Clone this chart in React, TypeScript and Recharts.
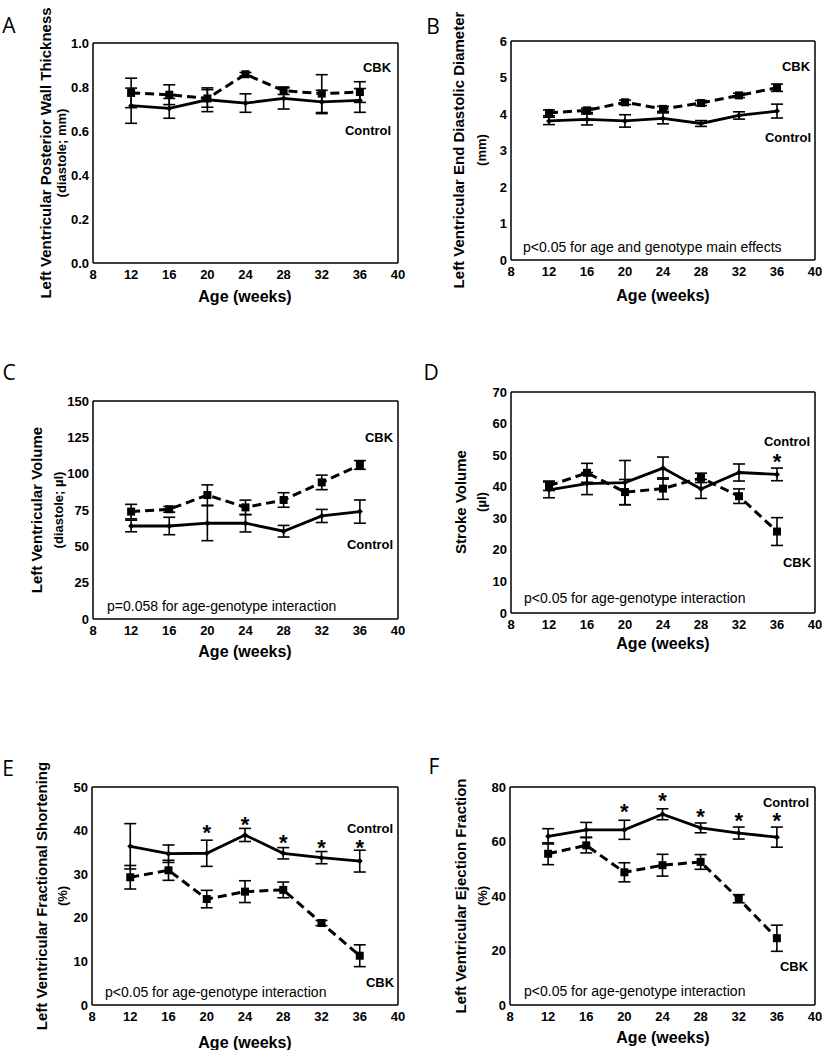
import React from "react";
import {
  ComposedChart,
  Line,
  XAxis,
  YAxis,
  ErrorBar,
  ReferenceLine,
} from "recharts";

const ages = [12, 16, 20, 24, 28, 32, 36];
const ageTicks = [8, 12, 16, 20, 24, 28, 32, 36, 40];

// A - posterior wall thickness
const pwtControl = [0.715, 0.703, 0.742, 0.727, 0.748, 0.732, 0.739];
const pwtControlErr = [0.08, 0.045, 0.054, 0.042, 0.048, 0.053, 0.054];
const pwtCbk = [0.773, 0.765, 0.748, 0.858, 0.783, 0.77, 0.777];
const pwtCbkErr = [0.067, 0.045, 0.04, 0.008, 0.017, 0.086, 0.047];

// B - end diastolic diameter
const eddControl = [3.81, 3.85, 3.81, 3.88, 3.74, 3.96, 4.08];
const eddControlErr = [0.1, 0.15, 0.17, 0.15, 0.08, 0.1, 0.19];
const eddCbk = [4.03, 4.1, 4.32, 4.14, 4.3, 4.51, 4.72];
const eddCbkErr = [0.08, 0.06, 0.06, 0.07, 0.07, 0.06, 0.1];

// C - diastolic volume
const volControl = [64, 64, 65.9, 65.9, 60.4, 70.9, 73.9];
const volControlErr = [4, 6, 12, 6, 4, 4.5, 8];
const volCbk = [73.9, 75.5, 85.3, 76.8, 81.9, 94, 106];
const volCbkErr = [5, 2, 7, 5, 5, 5, 3];

// D - stroke volume
const svControl = [39, 41, 41.3, 45.9, 39.3, 44.5, 43.9];
const svControlErr = [2.5, 3.5, 7, 3.5, 3, 2.7, 2];
const svCbk = [40.3, 44.4, 38.3, 39.4, 42.8, 37, 25.8];
const svCbkErr = [1.5, 3, 4, 3.4, 1.5, 2.3, 4.4];
const svStars = [null, null, null, null, null, null, 49.4];

// E - fractional shortening
const fsControl = [36.4, 34.7, 34.8, 39, 34.8, 33.8, 33];
const fsControlErr = [5.2, 2, 3, 1.5, 1.3, 1.4, 2.5];
const fsCbk = [29.3, 30.9, 24.3, 26, 26.4, 18.8, 11.3];
const fsCbkErr = [2.7, 2.3, 2, 2.5, 1.8, 0.6, 2.5];
const fsStars = [null, null, 40.6, 42.5, 38.3, 37.1, 37.1];

// F - ejection fraction
const efControl = [61.9, 64.3, 64.3, 70, 65, 63.1, 61.6];
const efControlErr = [2.8, 2.7, 3.5, 2, 1.8, 2.2, 3.7];
const efCbk = [55.5, 58.6, 48.7, 51.3, 52.5, 39, 24.5];
const efCbkErr = [4, 2.8, 3.5, 4, 2.7, 1.5, 4.8];
const efStars = [null, null, 72.7, 76.6, 70.8, 69.2, 69.2];

const FONT = "'Liberation Sans', Arial, sans-serif";

const build = (
  control: number[],
  controlErr: number[],
  cbk: number[],
  cbkErr: number[],
  stars?: (number | null)[]
) =>
  ages.map((age, i) => ({
    age,
    control: control[i],
    controlErr: controlErr[i],
    cbk: cbk[i],
    cbkErr: cbkErr[i],
    star: stars ? stars[i] : null,
  }));

const squareDot = (p: any) => {
  if (p.cy == null) return <g key={`s-${p.index}`} />;
  return <rect key={`s-${p.index}`} x={p.cx - 4} y={p.cy - 4} width={8} height={8} fill="#000" />;
};

const diamondDot = (p: any) => {
  if (p.cy == null) return <g key={`d-${p.index}`} />;
  const r = 3;
  return (
    <polygon
      key={`d-${p.index}`}
      points={`${p.cx},${p.cy - r} ${p.cx + r},${p.cy} ${p.cx},${p.cy + r} ${p.cx - r},${p.cy}`}
      fill="#000"
    />
  );
};

const starDot = (p: any) => {
  if (p.value == null || p.cy == null || isNaN(p.cy)) return <g key={`st-${p.index}`} />;
  return (
    <text
      key={`st-${p.index}`}
      x={p.cx}
      y={p.cy + 12}
      textAnchor="middle"
      fontSize={22}
      fontWeight="bold"
      fontFamily={FONT}
      fill="#000"
    >
      *
    </text>
  );
};

type Box = { x: number; y: number; w: number; h: number };

type PanelProps = {
  box: Box;
  data: any[];
  yMax: number;
  yTicks: number[];
  fmt?: (v: number) => string;
};

const PAD_L = 95;
const PAD_T = 15;
const PAD_R = 15;
const PAD_B = 50;

const Panel: React.FC<PanelProps> = ({ box, data, yMax, yTicks, fmt }) => {
  const tickStyle = { fontSize: 13, fontWeight: "bold", fill: "#000", fontFamily: FONT };
  return (
    <div style={{ position: "absolute", left: box.x - PAD_L, top: box.y - PAD_T }}>
      <ComposedChart
        width={box.w + PAD_L + PAD_R}
        height={box.h + PAD_T + PAD_B}
        data={data}
        margin={{ top: PAD_T, right: PAD_R, bottom: 0, left: 0 }}
      >
        <XAxis
          type="number"
          dataKey="age"
          domain={[8, 40]}
          ticks={ageTicks}
          height={PAD_B}
          tickSize={0}
          tickMargin={7}
          tick={tickStyle}
          axisLine={{ stroke: "#000", strokeWidth: 1.5 }}
          interval={0}
        />
        <YAxis
          type="number"
          domain={[0, yMax]}
          ticks={yTicks}
          width={PAD_L}
          tickSize={0}
          tickMargin={4}
          tick={tickStyle}
          tickFormatter={fmt}
          axisLine={{ stroke: "#000", strokeWidth: 1.5 }}
          interval={0}
        />
        <ReferenceLine y={yMax} stroke="#000" strokeWidth={1.5} ifOverflow="visible" />
        <ReferenceLine x={40} stroke="#000" strokeWidth={1.5} ifOverflow="visible" />
        <Line
          dataKey="control"
          stroke="#000"
          strokeWidth={2.8}
          dot={diamondDot}
          activeDot={false}
          isAnimationActive={false}
        >
          <ErrorBar dataKey="controlErr" direction="y" width={6} stroke="#000" strokeWidth={1.6} />
        </Line>
        <Line
          dataKey="cbk"
          stroke="#000"
          strokeWidth={3}
          strokeDasharray="9 5"
          dot={squareDot}
          activeDot={false}
          isAnimationActive={false}
        >
          <ErrorBar dataKey="cbkErr" direction="y" width={6} stroke="#000" strokeWidth={1.6} />
        </Line>
        <Line
          dataKey="star"
          stroke="none"
          dot={starDot}
          activeDot={false}
          isAnimationActive={false}
        />
      </ComposedChart>
    </div>
  );
};

const boxes: Record<string, Box> = {
  A: { x: 93, y: 43, w: 305, h: 220 },
  B: { x: 511, y: 41, w: 304, h: 219 },
  C: { x: 93, y: 401, w: 305, h: 218 },
  D: { x: 511, y: 392, w: 304, h: 221 },
  E: { x: 92, y: 787, w: 306, h: 218 },
  F: { x: 510, y: 787, w: 305, h: 218 },
};

type Txt = { t: string; x: number; y: number };

const letters: Txt[] = [
  { t: "A", x: 9, y: 25 },
  { t: "B", x: 433, y: 26 },
  { t: "C", x: 9, y: 372 },
  { t: "D", x: 431, y: 372 },
  { t: "E", x: 8, y: 768 },
  { t: "F", x: 434, y: 766 },
];

const yTitles = [
  { main: "Left Ventricular Posterior Wall Thickness", sub: "(diastole; mm)", x1: 45, x2: 61, y: 153 },
  { main: "Left Ventricular End Diastolic Diameter", sub: "(mm)", x1: 458, x2: 481, y: 150 },
  { main: "Left Ventricular Volume", sub: "(diastole; µl)", x1: 36, x2: 58, y: 510 },
  { main: "Stroke Volume", sub: "(µl)", x1: 460, x2: 481, y: 502 },
  { main: "Left Ventricular Fractional Shortening", sub: "(%)", x1: 41, x2: 62, y: 896 },
  { main: "Left Ventricular Ejection Fraction", sub: "(%)", x1: 460, x2: 482, y: 896 },
];

const seriesLabels: Txt[] = [
  { t: "CBK", x: 377, y: 67 },
  { t: "Control", x: 368, y: 130 },
  { t: "CBK", x: 796, y: 66 },
  { t: "Control", x: 788, y: 137 },
  { t: "CBK", x: 379, y: 437 },
  { t: "Control", x: 370, y: 544 },
  { t: "Control", x: 787, y: 441 },
  { t: "CBK", x: 797, y: 562 },
  { t: "Control", x: 370, y: 828 },
  { t: "CBK", x: 380, y: 982 },
  { t: "Control", x: 786, y: 802 },
  { t: "CBK", x: 794, y: 966 },
];

const notes: Txt[] = [
  { t: "p<0.05 for age and genotype main effects", x: 523, y: 247 },
  { t: "p=0.058 for age-genotype interaction", x: 107, y: 606 },
  { t: "p<0.05 for age-genotype interaction", x: 524, y: 598 },
  { t: "p<0.05 for age-genotype interaction", x: 105, y: 992 },
  { t: "p<0.05 for age-genotype interaction", x: 524, y: 991 },
];

const xTitles: Txt[] = [
  { t: "Age (weeks)", x: 245, y: 296 },
  { t: "Age (weeks)", x: 663, y: 295 },
  { t: "Age (weeks)", x: 245, y: 651 },
  { t: "Age (weeks)", x: 663, y: 643 },
  { t: "Age (weeks)", x: 245, y: 1042 },
  { t: "Age (weeks)", x: 663, y: 1037 },
];

const App: React.FC = () => {
  return (
    <div
      style={{
        position: "absolute",
        left: 0,
        top: 0,
        width: 822,
        height: 1050,
        background: "#fff",
        overflow: "hidden",
      }}
    >
      <Panel
        box={boxes.A}
        data={build(pwtControl, pwtControlErr, pwtCbk, pwtCbkErr)}
        yMax={1}
        yTicks={[0, 0.2, 0.4, 0.6, 0.8, 1.0]}
        fmt={(v) => v.toFixed(1)}
      />
      <Panel
        box={boxes.B}
        data={build(eddControl, eddControlErr, eddCbk, eddCbkErr)}
        yMax={6}
        yTicks={[0, 1, 2, 3, 4, 5, 6]}
      />
      <Panel
        box={boxes.C}
        data={build(volControl, volControlErr, volCbk, volCbkErr)}
        yMax={150}
        yTicks={[0, 25, 50, 75, 100, 125, 150]}
      />
      <Panel
        box={boxes.D}
        data={build(svControl, svControlErr, svCbk, svCbkErr, svStars)}
        yMax={70}
        yTicks={[0, 10, 20, 30, 40, 50, 60, 70]}
      />
      <Panel
        box={boxes.E}
        data={build(fsControl, fsControlErr, fsCbk, fsCbkErr, fsStars)}
        yMax={50}
        yTicks={[0, 10, 20, 30, 40, 50]}
      />
      <Panel
        box={boxes.F}
        data={build(efControl, efControlErr, efCbk, efCbkErr, efStars)}
        yMax={80}
        yTicks={[0, 20, 40, 60, 80]}
      />
      <svg
        width={822}
        height={1050}
        style={{ position: "absolute", left: 0, top: 0, pointerEvents: "none" }}
        fontFamily={FONT}
      >
        {letters.map((l) => (
          <text
            key={l.t}
            x={l.x}
            y={l.y}
            fontSize={21}
            fontFamily="'Open Sans', sans-serif"
            dominantBaseline="central"
            textAnchor="middle"
          >
            {l.t}
          </text>
        ))}
        {yTitles.map((t, i) => (
          <g key={`yt-${i}`}>
            <text
              x={t.x1}
              y={t.y}
              transform={`rotate(-90 ${t.x1} ${t.y})`}
              textAnchor="middle"
              dominantBaseline="central"
              fontSize={15}
              fontWeight="bold"
            >
              {t.main}
            </text>
            <text
              x={t.x2}
              y={t.y}
              transform={`rotate(-90 ${t.x2} ${t.y})`}
              textAnchor="middle"
              dominantBaseline="central"
              fontSize={13}
              fontWeight="bold"
            >
              {t.sub}
            </text>
          </g>
        ))}
        {seriesLabels.map((s, i) => (
          <text
            key={`sl-${i}`}
            x={s.x}
            y={s.y}
            textAnchor="middle"
            dominantBaseline="central"
            fontSize={13}
            fontWeight="bold"
          >
            {s.t}
          </text>
        ))}
        {notes.map((n, i) => (
          <text key={`n-${i}`} x={n.x} y={n.y} dominantBaseline="central" fontSize={14}>
            {n.t}
          </text>
        ))}
        {xTitles.map((s, i) => (
          <text
            key={`xt-${i}`}
            x={s.x}
            y={s.y}
            textAnchor="middle"
            dominantBaseline="central"
            fontSize={16}
            fontWeight="bold"
          >
            {s.t}
          </text>
        ))}
      </svg>
    </div>
  );
};

export default App;
